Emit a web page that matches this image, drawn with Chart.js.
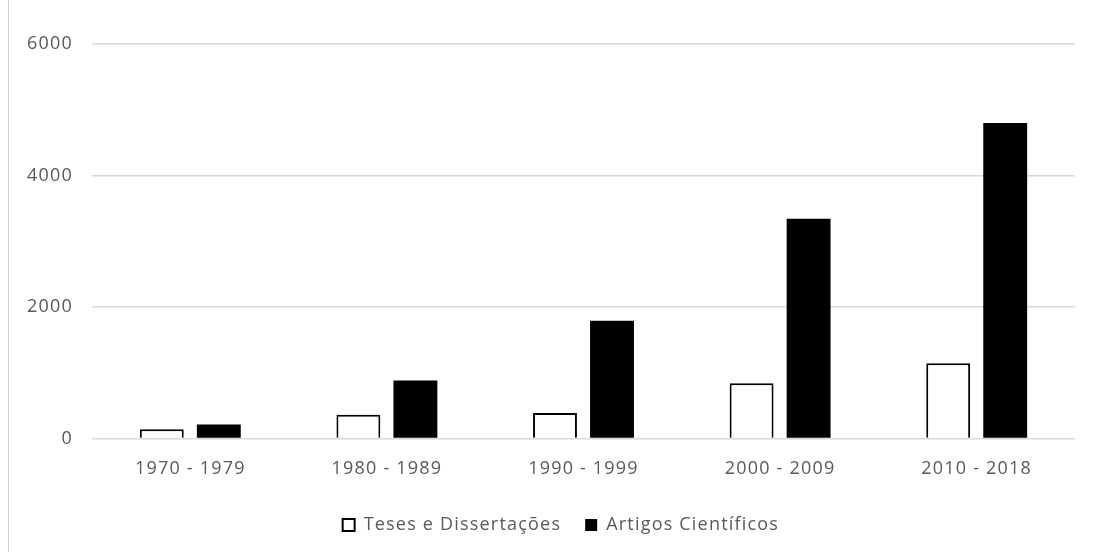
<!DOCTYPE html>
<html>
<head>
<meta charset="utf-8">
<script src="https://cdn.jsdelivr.net/npm/chart.js@4.4.0/dist/chart.umd.min.js"></script>
<style>
    html, body { margin: 0; padding: 0; background: #fff; }
    #wrap { position: relative; width: 1097px; height: 552px; }
    #wrap::before { content: ''; position: absolute; left: 8px; top: 0; bottom: 0; width: 1px; background: #d0d0d0; }
</style>
</head>
<body>
<div id="wrap"><canvas id="chart" width="1097" height="552"></canvas></div>
<script>
// Periods and publication counts
const periods = ['1970 - 1979', '1980 - 1989', '1990 - 1999', '2000 - 2009', '2010 - 2018'];
const teses = [140, 360, 385, 840, 1145];
const artigos = [210, 880, 1790, 3340, 4800];
const yTicks = [0, 2000, 4000, 6000];

const textColor = '#595959';
const fontFamily = '"Open Sans", sans-serif';
const fontSize = 18;

// wider letter spacing for all canvas text
const spacing = {
    id: 'spacing',
    beforeInit(chart) { chart.ctx.letterSpacing = '1.2px'; },
    beforeDraw(chart) { chart.ctx.letterSpacing = '1.2px'; }
};

const ctx = document.getElementById('chart').getContext('2d');
new Chart(ctx, {
    type: 'bar',
    plugins: [spacing],
    data: {
        labels: periods,
        datasets: [
            {
                label: 'Teses e Dissertações',
                data: teses,
                backgroundColor: '#ffffff',
                borderColor: '#000000',
                borderWidth: 2
            },
            {
                label: 'Artigos Científicos',
                data: artigos,
                backgroundColor: '#000000',
                borderColor: '#000000',
                borderWidth: 0
            }
        ]
    },
    options: {
        responsive: false,
        animation: false,
        devicePixelRatio: 1,
        categoryPercentage: 0.58,
        barPercentage: 0.77,
        layout: {
            padding: { left: 0, right: 22, top: 44, bottom: 8 }
        },
        plugins: {
            tooltip: { enabled: false },
            legend: {
                position: 'bottom',
                labels: {
                    color: textColor,
                    font: { family: fontFamily, size: fontSize },
                    boxWidth: 12,
                    boxHeight: 12,
                    padding: 24
                }
            }
        },
        scales: {
            x: {
                grid: { display: false },
                border: { display: false },
                ticks: {
                    color: textColor,
                    font: { family: fontFamily, size: fontSize },
                    padding: 12
                }
            },
            y: {
                min: 0,
                max: 6000,
                afterFit(scale) { scale.width = 92; },
                afterBuildTicks(scale) { scale.ticks = yTicks.map(v => ({ value: v })); },
                grid: { color: '#d9d9d9', lineWidth: 1.5, drawTicks: false },
                border: { display: false },
                ticks: {
                    color: textColor,
                    font: { family: fontFamily, size: fontSize },
                    padding: 19,
                    callback: v => String(v)
                }
            }
        }
    }
});
</script>
</body>
</html>
